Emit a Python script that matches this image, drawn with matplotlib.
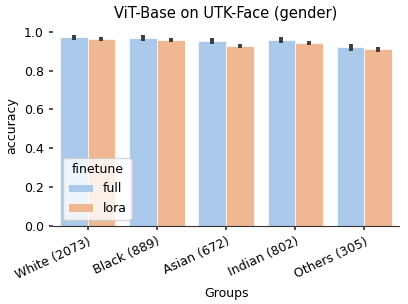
import numpy as np
import matplotlib
matplotlib.use("Agg")
import matplotlib.pyplot as plt
import seaborn as sns

groups = ["White (2073)", "Black (889)", "Asian (672)", "Indian (802)", "Others (305)"]
finetune = ["full", "lora"]
acc_full = [0.971, 0.968, 0.953, 0.957, 0.921]
acc_lora = [0.964, 0.959, 0.926, 0.943, 0.909]
err_full = [0.015, 0.015, 0.015, 0.015, 0.018]
err_lora = [0.010, 0.011, 0.010, 0.012, 0.012]

pal = sns.color_palette("pastel", 2)
colors = [sns.desaturate(c, 0.75) for c in pal]
plt.rcParams.update({"font.size": 9, "axes.titlesize": 10.5, "axes.labelsize": 9,
                     "xtick.labelsize": 9, "ytick.labelsize": 9,
                     "legend.fontsize": 9, "legend.title_fontsize": 9})

fig, ax = plt.subplots(figsize=(4.08, 3.04), dpi=100)
x = np.arange(len(groups))
w = 0.4
for i, (vals, errs) in enumerate([(acc_full, err_full), (acc_lora, err_lora)]):
    pos = x + (i - 0.5) * w
    ax.bar(pos, vals, width=w, color=colors[i], label=finetune[i], edgecolor="white", linewidth=0.5)
    ax.errorbar(pos, vals, yerr=errs, fmt="none", ecolor="#3d3d3d", elinewidth=2.8, capsize=0)

ax.set_xticks(x)
ax.set_xticklabels(groups, rotation=25, ha="right", rotation_mode="anchor")
ax.set_xlim(-0.5, 4.5)
ax.set_ylim(0, 1.03)
ax.set_yticks([0.0, 0.2, 0.4, 0.6, 0.8, 1.0])
ax.set_xlabel("Groups")
ax.set_ylabel("accuracy")
ax.set_title("ViT-Base on UTK-Face (gender)")
for s in ["left", "top", "right"]:
    ax.spines[s].set_visible(False)
ax.spines["bottom"].set_color("#333333")
ax.tick_params(axis="both", length=3, width=1.2, color="#333333")
ax.legend(title="finetune", loc="lower left", bbox_to_anchor=(0.01, 0.0))

plt.subplots_adjust(left=0.13, right=0.978, bottom=0.2566, top=0.9145)
plt.savefig("out.png", dpi=100)
